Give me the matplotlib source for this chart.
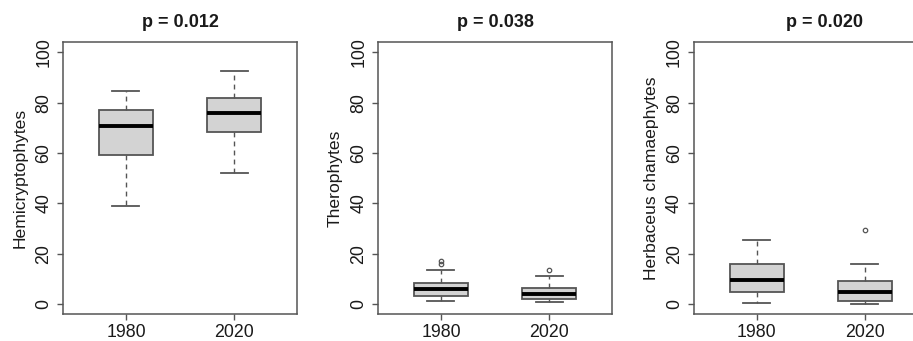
import matplotlib
matplotlib.use("Agg")
import matplotlib.pyplot as plt

plt.rcParams["font.family"] = ["Liberation Sans", "DejaVu Sans"]

# Data: five-number summaries per year plus outliers
years = ["1980", "2020"]
titles = ["p = 0.012", "p = 0.038", "p = 0.020"]
ylabels = ["Hemicryptophytes", "Therophytes", "Herbaceus chamaephytes"]

hemi_low = [39.0, 52.1]
hemi_q1 = [59.1, 68.4]
hemi_med = [70.9, 76.0]
hemi_q3 = [77.0, 81.7]
hemi_high = [84.6, 92.6]
hemi_out = [[], []]

thero_low = [1.4, 1.0]
thero_q1 = [3.4, 2.2]
thero_med = [6.0, 4.0]
thero_q3 = [8.3, 6.3]
thero_high = [13.6, 11.2]
thero_out = [[16.0, 17.1], [13.6]]

herb_low = [0.4, 0.0]
herb_q1 = [5.0, 1.1]
herb_med = [9.6, 5.0]
herb_q3 = [16.1, 9.3]
herb_high = [25.5, 16.1]
herb_out = [[], [29.4]]

panels = [
    (hemi_low, hemi_q1, hemi_med, hemi_q3, hemi_high, hemi_out),
    (thero_low, thero_q1, thero_med, thero_q3, thero_high, thero_out),
    (herb_low, herb_q1, herb_med, herb_q3, herb_high, herb_out),
]

W, H = 913, 341
fig = plt.figure(figsize=(W / 100, H / 100), dpi=100)

# axes placement in pixels (left edge), all same size
lefts = [63.3, 378.3, 694]
ax_w, ax_top, ax_bot = 233.4, 42.3, 314.3
title_x = [0.5, 0.5, 0.557]

edge = "#555555"
txt = "#1a1a1a"
for i, (lo, q1, med, q3, hi, out) in enumerate(panels):
    ax = fig.add_axes([lefts[i] / W, (H - ax_bot) / H, ax_w / W, (ax_bot - ax_top) / H])
    stats = []
    for j in range(len(years)):
        stats.append(dict(whislo=lo[j], q1=q1[j], med=med[j], q3=q3[j],
                          whishi=hi[j], fliers=out[j], label=years[j]))
    ax.bxp(stats, positions=[1, 2], widths=0.5, patch_artist=True,
           boxprops=dict(facecolor="#d3d3d3", edgecolor=edge, linewidth=1.3),
           medianprops=dict(color="black", linewidth=2.8),
           whiskerprops=dict(color=edge, linewidth=1.0, linestyle=(0, (3.5, 3))),
           capprops=dict(color=edge, linewidth=1.3),
           capwidths=0.25,
           flierprops=dict(marker="o", markersize=3.2, markerfacecolor="none",
                           markeredgecolor=edge, markeredgewidth=0.9))
    ax.set_xlim(0.42, 2.58)
    ax.set_ylim(-4, 104)
    ax.set_yticks([0, 20, 40, 60, 80, 100])
    ax.set_xticks([1, 2])
    ax.set_xticklabels(years)
    for s in ax.spines.values():
        s.set_color(edge)
        s.set_linewidth(1.1)
    ax.tick_params(axis="both", length=4.5, width=1.0, color=edge,
                   labelsize=12.8, labelcolor=txt)
    ax.tick_params(axis="x", pad=2.5)
    ax.tick_params(axis="y", pad=3.5, labelrotation=90)
    for t in ax.get_yticklabels():
        t.set_va("center")
    ax.set_ylabel(ylabels[i], fontsize=12.6, color=txt, va="center")
    ax.yaxis.set_label_coords(-43 / ax_w, 0.5)
    ax.set_title(titles[i], fontsize=13, fontweight="bold", color=txt,
                 x=title_x[i], pad=11)

fig.savefig("out.png", dpi=100)
